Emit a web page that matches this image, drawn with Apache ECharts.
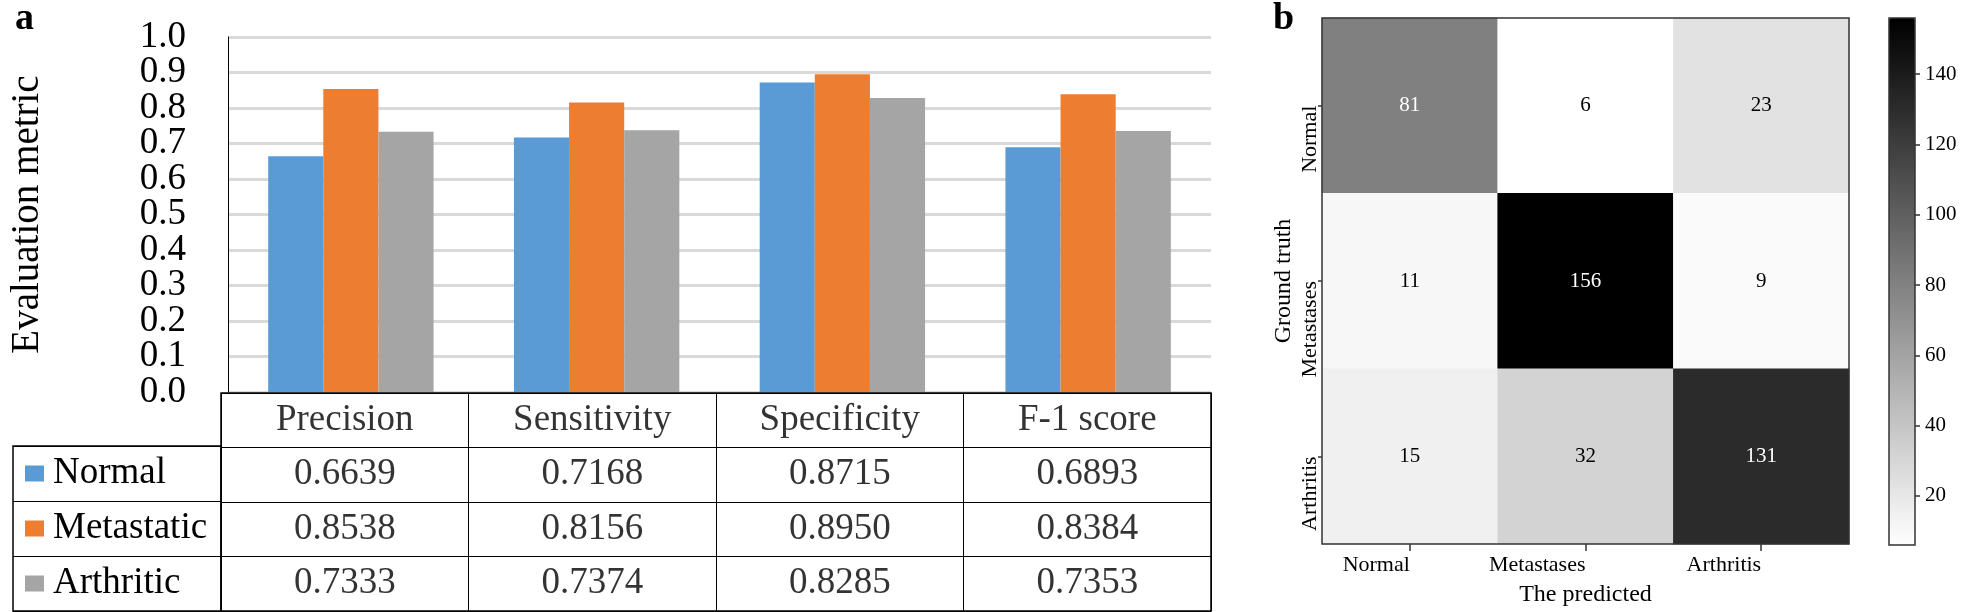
<!DOCTYPE html>
<html>
<head>
<meta charset="utf-8">
<script src="https://cdn.jsdelivr.net/npm/echarts@6/dist/echarts.min.js"></script>
<style>
html,body{margin:0;padding:0;background:#fff;}
#chart{width:1968px;height:612px;}
</style>
</head>
<body>
<div id="chart"></div>
<script>
// ---- Data ----
const categories = ['Precision', 'Sensitivity', 'Specificity', 'F-1 score'];
const seriesNames = ['Normal', 'Metastatic', 'Arthritic'];
const normalVals = [0.6639, 0.7168, 0.8715, 0.6893];
const metastaticVals = [0.8538, 0.8156, 0.8950, 0.8384];
const arthriticVals = [0.7333, 0.7374, 0.8285, 0.7353];
const yTicksEven = [0, 0.2, 0.4, 0.6, 0.8, 1.0];
const yTicksOdd = [0.1, 0.3, 0.5, 0.7, 0.9];
const cmLabels = ['Normal', 'Metastases', 'Arthritis'];
const cmRowNormal = [81, 6, 23];
const cmRowMetastases = [11, 156, 9];
const cmRowArthritis = [15, 32, 131];
const colorbarTicks = [20, 40, 60, 80, 100, 120, 140];
const cmMin = 6, cmMax = 156;

// ---- Styling ----
const FONT = "'Liberation Serif', 'Times New Roman', serif";
const colors = ['#5b9bd5', '#ed7d31', '#a5a5a5'];
const allVals = [normalVals, metastaticVals, arthriticVals];
const cmRows = [cmRowNormal, cmRowMetastases, cmRowArthritis];

const chart = echarts.init(document.getElementById('chart'), null, {renderer: 'canvas'});

// table cell data
const tableRows = ['hdr'].concat(seriesNames);
const tableData = [];
categories.forEach((c, ci) => {
  tableData.push({value: [ci, 0], txt: c});
  allVals.forEach((arr, si) => tableData.push({value: [ci, si + 1], txt: arr[ci].toFixed(4)}));
});

// heatmap data
const heatData = [];
cmRows.forEach((row, ri) => row.forEach((v, ci) => {
  heatData.push({value: [ci, ri, v], label: {color: v > 78 ? '#ffffff' : '#000000'}});
}));

const legendRich = {t: {fontSize: 37, fontFamily: FONT, color: '#000', padding: [0, 0, 0, 9]}};
seriesNames.forEach((n, i) => { legendRich['s' + i] = {backgroundColor: colors[i], width: 19, height: 16}; });

const yLabelStyle = {fontSize: 37, fontFamily: FONT, color: '#000', margin: 42, formatter: v => v.toFixed(1)};

const option = {
  animation: false,
  backgroundColor: '#ffffff',
  textStyle: {fontFamily: FONT},
  title: [
    {text: 'a', left: 15, top: 0, padding: 0, textStyle: {fontSize: 38, fontWeight: 'bold', fontFamily: FONT, color: '#000'}},
    {text: 'b', left: 1273, top: 0, padding: 0, textStyle: {fontSize: 38, fontWeight: 'bold', fontFamily: FONT, color: '#000'}}
  ],
  grid: [
    {left: 221, width: 990, top: 37, height: 355},                       // bars
    {left: 221, width: 990, top: 393, height: 218, show: true, borderColor: '#000', borderWidth: 1.5, backgroundColor: 'transparent', z: 5}, // table
    {left: 13, width: 208, top: 446, height: 165, show: true, borderColor: '#000', borderWidth: 1.5, backgroundColor: 'transparent', z: 5},  // legend column
    {left: 1322, width: 527, top: 18, height: 527, show: true, borderColor: '#333', borderWidth: 1.5, backgroundColor: 'transparent', z: 5}, // heatmap
    {left: 1889, width: 26, top: 18, height: 527, show: true, borderColor: '#333', borderWidth: 1.5, backgroundColor: 'transparent', z: 5}   // colorbar
  ],
  xAxis: [
    {gridIndex: 0, type: 'category', data: categories, axisLine: {show: false}, axisTick: {show: false}, axisLabel: {show: false}},
    {gridIndex: 1, type: 'category', data: categories, axisLine: {show: false}, axisTick: {show: false}, axisLabel: {show: false},
     splitLine: {show: true, interval: 0, lineStyle: {color: '#000', width: 1}}},
    {gridIndex: 2, type: 'value', show: false},
    {gridIndex: 3, type: 'category', data: cmLabels, axisLine: {show: false},
     axisTick: {show: true, alignWithLabel: true, length: 7, lineStyle: {color: '#333', width: 1.5}},
     axisLabel: {fontSize: 22, fontFamily: FONT, color: '#000', align: 'right', margin: 10},
     name: 'The predicted', nameLocation: 'middle', nameGap: 39, nameTextStyle: {fontSize: 24, fontFamily: FONT, color: '#000'}},
    {gridIndex: 4, type: 'category', data: [''], show: false}
  ],
  yAxis: [
    {gridIndex: 0, type: 'value', min: 0, max: 1, interval: 0.1,
     axisLine: {show: true, lineStyle: {color: '#000', width: 1}}, axisTick: {show: false},
     axisLabel: Object.assign({customValues: yTicksEven}, yLabelStyle),
     splitLine: {show: true, lineStyle: {color: '#d9d9d9', width: 3}},
     name: 'Evaluation metric', nameLocation: 'middle', nameGap: 181,
     nameTextStyle: {fontSize: 39, fontFamily: FONT, color: '#000'}},
    {gridIndex: 1, type: 'category', data: tableRows, inverse: true, axisLine: {show: false}, axisTick: {show: false}, axisLabel: {show: false},
     splitLine: {show: true, interval: 0, lineStyle: {color: '#000', width: 1}}},
    {gridIndex: 2, type: 'category', data: seriesNames, inverse: true, axisLine: {show: false}, axisTick: {show: false},
     axisLabel: {inside: true, margin: 12, formatter: (v, i) => '{s' + i + '|}{t|' + v + '}', rich: legendRich},
     splitLine: {show: true, interval: 0, lineStyle: {color: '#000', width: 1}}},
    {gridIndex: 3, type: 'category', data: cmLabels, inverse: true, axisLine: {show: false},
     axisTick: {show: true, alignWithLabel: true, length: 4, lineStyle: {color: '#333', width: 1.5}},
     axisLabel: {fontSize: 22, fontFamily: FONT, color: '#000', rotate: 90, align: 'right', verticalAlign: 'bottom', margin: 1},
     name: 'Ground truth', nameLocation: 'middle', nameGap: 26, nameTextStyle: {fontSize: 24, fontFamily: FONT, color: '#000'}},
    {gridIndex: 4, type: 'value', min: cmMin, max: cmMax, position: 'right',
     axisLine: {show: false},
     axisTick: {show: true, length: 5, customValues: colorbarTicks, lineStyle: {color: '#333', width: 1.5}},
     axisLabel: {fontSize: 21, fontFamily: FONT, color: '#000', margin: 10, customValues: colorbarTicks},
     splitLine: {show: false}},
    {gridIndex: 0, type: 'value', min: 0, max: 1, interval: 0.1, position: 'left',
     axisLine: {show: false}, axisTick: {show: false}, splitLine: {show: false},
     axisLabel: Object.assign({customValues: yTicksOdd}, yLabelStyle)}
  ],
  visualMap: {
    type: 'continuous', seriesIndex: 4, min: cmMin, max: cmMax,
    inRange: {color: ['#ffffff', '#000000']},
    orient: 'vertical', left: 1889, top: 18, itemWidth: 26, itemHeight: 527,
    padding: 0, calculable: false, text: null, hoverLink: false
  },
  series: [
    {type: 'bar', name: seriesNames[0], xAxisIndex: 0, yAxisIndex: 0, data: normalVals, itemStyle: {color: colors[0]}, barGap: '0%', barCategoryGap: '32.7%', silent: true},
    {type: 'bar', name: seriesNames[1], xAxisIndex: 0, yAxisIndex: 0, data: metastaticVals, itemStyle: {color: colors[1]}, barGap: '0%', barCategoryGap: '32.7%', silent: true},
    {type: 'bar', name: seriesNames[2], xAxisIndex: 0, yAxisIndex: 0, data: arthriticVals, itemStyle: {color: colors[2]}, barGap: '0%', barCategoryGap: '32.7%', silent: true},
    {type: 'scatter', xAxisIndex: 1, yAxisIndex: 1, symbolSize: 0, silent: true, data: tableData,
     itemStyle: {color: 'transparent'},
     label: {show: true, position: 'inside', fontSize: 37, fontFamily: FONT, color: '#000', formatter: p => p.data.txt}},
    {type: 'heatmap', xAxisIndex: 3, yAxisIndex: 3, data: heatData, silent: true,
     label: {show: true, fontSize: 21, fontFamily: FONT}}
  ]
};
chart.setOption(option);
</script>
</body>
</html>
